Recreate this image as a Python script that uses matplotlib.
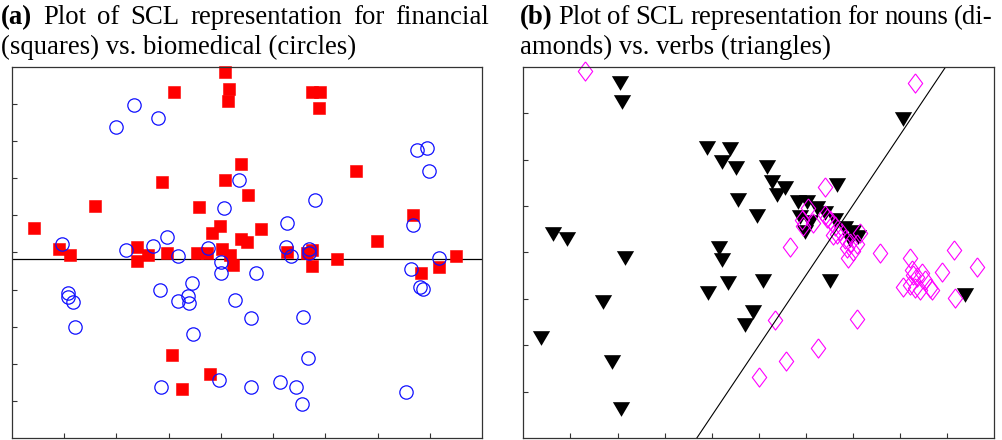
import numpy as np
import matplotlib
matplotlib.use('Agg')
import matplotlib.pyplot as plt

plt.rcParams['font.family'] = ['Liberation Serif', 'DejaVu Serif']

# ---- panel (a): financial (squares) vs biomedical (circles)
fin_x = [0.43, 0.90, 1.11, 1.59, 2.40, 2.40, 2.61, 2.87, 2.97, 3.10, 3.07, 3.26,
         3.54, 3.58, 3.73, 3.79, 3.83, 3.98, 4.02, 4.08, 4.15, 4.14, 4.08, 4.17,
         4.23, 4.38, 4.38, 4.50, 4.52, 4.77, 5.26, 5.65, 5.74, 5.74, 5.74, 5.89,
         5.88, 6.22, 6.58, 6.98, 7.67, 7.83, 8.17, 8.50]
fin_y = [5.67, 5.10, 4.94, 6.26, 5.16, 4.78, 4.94, 6.91, 4.99, 9.31, 2.25, 1.33,
         4.99, 6.23, 4.99, 1.73, 5.53, 5.70, 5.10, 9.85, 9.39, 9.09, 6.96, 4.94,
         4.67, 7.39, 5.37, 5.29, 6.56, 5.64, 5.02, 4.99, 5.08, 4.64, 9.31, 9.31,
         8.88, 4.83, 7.20, 5.32, 6.02, 4.46, 4.62, 4.91]

bio_x = [0.96, 1.99, 2.34, 2.80, 2.19, 2.70, 2.97, 3.18, 3.75, 4.06, 4.35, 4.00,
         4.00, 1.08, 1.08, 1.17, 1.21, 2.84, 3.18, 3.37, 3.45, 3.39, 4.27, 3.47,
         2.85, 3.96, 5.24, 5.34, 5.68, 5.68, 4.67, 4.58, 5.57, 5.67, 4.58, 5.13,
         5.44, 5.55, 7.54, 7.63, 7.81, 7.86, 8.17, 7.75, 7.94, 7.98, 5.80, 5.26,
         7.67]
bio_y = [5.24, 8.39, 8.96, 8.63, 5.08, 5.18, 5.43, 4.91, 5.13, 6.21, 6.94, 4.75,
         4.46, 3.92, 3.81, 3.67, 3.00, 4.00, 3.70, 3.84, 4.19, 3.65, 3.73, 2.81,
         1.38, 1.57, 5.16, 4.91, 5.10, 4.99, 4.46, 3.24, 3.27, 2.16, 1.38, 1.52,
         1.38, 0.92, 1.25, 4.56, 4.08, 4.02, 4.86, 7.77, 7.82, 7.18, 6.40, 5.80,
         5.75]
split_a = 4.82

# ---- panel (b): nouns (diamonds) vs verbs (triangles)
verb_x = [2.05, 2.10, 3.90, 4.39, 4.22, 4.52, 4.56, 4.96, 0.63, 0.93, 4.15, 4.22,
          2.16, 4.35, 3.92, 5.09, 1.69, 4.88, 4.71, 0.38, 1.88, 2.07, 8.06, 5.17,
          5.28, 5.56, 5.39, 6.66, 5.83, 6.02, 6.24, 5.87, 6.09, 5.98, 6.41, 6.62,
          6.83, 7.00, 7.11, 6.94, 6.51, 9.38]
verb_y = [7.64, 7.25, 6.26, 6.22, 5.94, 5.81, 5.12, 4.78, 4.39, 4.29, 4.09, 3.83,
          3.88, 3.34, 3.12, 3.38, 2.93, 2.72, 2.44, 2.16, 1.64, 0.63, 6.87, 5.83,
          5.51, 5.38, 5.23, 5.45, 5.08, 5.08, 4.95, 4.76, 4.65, 4.44, 4.85, 4.69,
          4.52, 4.44, 4.33, 4.26, 3.38, 3.08]

noun_x = [1.31, 8.32, 6.41, 6.04, 5.92, 6.15, 5.94, 6.41, 6.51, 6.62, 6.72, 6.66,
          6.83, 6.94, 7.08, 6.87, 7.00, 6.89, 6.45, 6.58, 7.14, 5.66, 7.57, 9.14,
          9.63, 8.21, 8.89, 8.25, 8.27, 8.36, 8.46, 8.52, 8.06, 8.21, 8.31, 8.42,
          8.63, 8.68, 9.17, 5.34, 7.08, 6.26, 5.58, 5.00]
noun_y = [7.90, 7.64, 5.40, 4.95, 4.69, 4.63, 4.57, 4.80, 4.69, 4.57, 4.46, 4.39,
          4.29, 4.20, 4.18, 4.09, 4.04, 3.88, 4.74, 4.37, 4.42, 4.11, 3.99, 4.06,
          3.68, 3.88, 3.58, 3.63, 3.51, 3.47, 3.56, 3.40, 3.25, 3.30, 3.23, 3.19,
          3.23, 3.19, 3.01, 2.54, 2.57, 1.94, 1.66, 1.32]
split_b_x = [3.68, 8.97]
split_b_y = [0.0, 8.0]

W, H = 1003, 440
fig = plt.figure(figsize=(W / 100, H / 100), dpi=100)

tri = [(-1, 0.85), (1, 0.85), (0, -0.85), (-1, 0.85)]
dia = [(0, 1), (0.75, 0), (0, -1), (-0.75, 0), (0, 1)]


def style(ax, xmax, ymax):
    ax.set_xlim(0, xmax)
    ax.set_ylim(0, ymax)
    ax.set_xticks(range(1, xmax))
    ax.set_yticks(range(1, ymax))
    ax.set_xticklabels([])
    ax.set_yticklabels([])
    ax.tick_params(direction='in', length=3.6, width=0.8, color='#333333',
                   top=False, right=False)
    for s in ax.spines.values():
        s.set_color('#333333')
        s.set_linewidth(0.9)


ax1 = fig.add_axes([11.7 / W, 1.7 / H, 470.6 / W, 371.6 / H])
style(ax1, 9, 10)
ax1.axhline(split_a, color='black', lw=0.9)
ax1.plot(fin_x, fin_y, 's', color='red', ms=8.2, mec='red', mew=0.4, clip_on=False)
ax1.plot(bio_x, bio_y, 'o', mfc='none', mec='#1010ff', ms=9.6, mew=0.9, clip_on=False)

ax2 = fig.add_axes([523.3 / W, 1.7 / H, 471 / W, 371.6 / H])
style(ax2, 10, 8)
ax2.plot(verb_x, verb_y, marker=tri, ls='none', color='black', ms=12.4, mew=0,
         clip_on=False)
ax2.plot(noun_x, noun_y, marker=dia, ls='none', mfc='none', mec='#ff00ff', ms=13.8,
         mew=0.8, clip_on=False)
ax2.plot(split_b_x, split_b_y, color='black', lw=0.8)

# ---- captions (first line justified like the paper)
fs = 19.3


def justify(words, bold, x0, x1, y):
    r = fig.canvas.get_renderer()
    ts = [fig.text(0, 1 - y / H, w, fontsize=fs, va='baseline',
                   fontweight='bold' if b else 'normal') for w, b in zip(words, bold)]
    ws = [t.get_window_extent(r).width for t in ts]
    gap = (x1 - x0 - sum(ws)) / (len(ws) - 1)
    x = x0
    for t, w in zip(ts, ws):
        t.set_x(x / W)
        x += w + gap


cap_a1 = ['(a)', 'Plot', 'of', 'SCL', 'representation', 'for', 'financial']
cap_b1 = ['(b)', 'Plot', 'of', 'SCL', 'representation', 'for', 'nouns', '(di-']
justify(cap_a1, [1, 0, 0, 0, 0, 0, 0], 1, 489, 24)
justify(cap_b1, [1, 0, 0, 0, 0, 0, 0, 0], 520, 993, 24)
fig.text(1 / W, 1 - 54 / H, '(squares) vs. biomedical (circles)', fontsize=fs,
         va='baseline')
fig.text(520 / W, 1 - 54 / H, 'amonds) vs. verbs (triangles)', fontsize=fs,
         va='baseline')

fig.savefig('out.png', dpi=100)
